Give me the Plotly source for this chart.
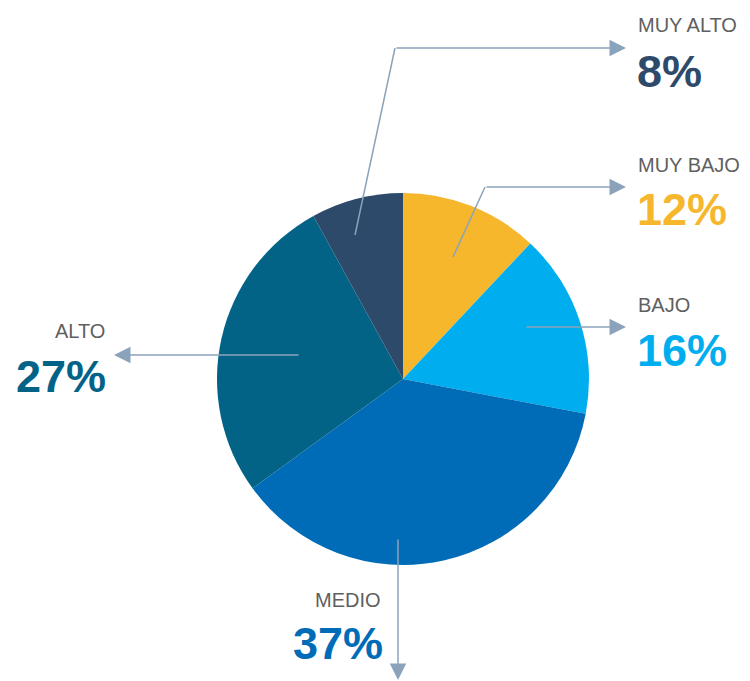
import plotly.graph_objects as go

# ---- data ----
categories = ["MUY BAJO", "BAJO", "MEDIO", "ALTO", "MUY ALTO"]
values = [12, 16, 37, 27, 8]

# ---- style ----
colors = ["#F6B72D", "#00AEEF", "#006CB7", "#036387", "#2D4A6B"]
W, H = 750, 681
LINE = "#8BA3BA"
PCT_FONT = "Liberation Sans, Arial, sans-serif"
LBL_FONT = "Liberation Sans, Arial, sans-serif"


def X(px):
    return px / W


def Y(py):
    return 1 - py / H


# pie geometry (pixels)
cx, cy, r = 403, 379, 186

fig = go.Figure(go.Pie(
    labels=categories,
    values=values,
    sort=False,
    direction="clockwise",
    rotation=0,
    marker=dict(colors=colors, line=dict(width=0)),
    textinfo="none",
    hoverinfo="label+percent",
    domain=dict(x=[X(cx - r), X(cx + r)], y=[Y(cy + r), Y(cy - r)]),
))

# connector layout per category: (inner point, elbow or None, arrow tip, text side)
connectors = {
    "MUY ALTO": dict(inner=(355, 235), elbow=(395, 48), tip=(626, 48), side="right"),
    "MUY BAJO": dict(inner=(453, 257), elbow=(485, 187), tip=(626, 187), side="right"),
    "BAJO": dict(inner=(525, 327), elbow=None, tip=(626, 327), side="right"),
    "ALTO": dict(inner=(300, 355), elbow=None, tip=(114, 355), side="left"),
    "MEDIO": dict(inner=(398, 538), elbow=None, tip=(398, 680), side="below"),
}

shapes = []
annotations = []
for cat, val, col in zip(categories, values, colors):
    c = connectors[cat]
    start = c["inner"]
    if c["elbow"] is not None:
        shapes.append(dict(type="line", xref="paper", yref="paper",
                           x0=X(start[0]), y0=Y(start[1]),
                           x1=X(c["elbow"][0]), y1=Y(c["elbow"][1]),
                           line=dict(color=LINE, width=1.5)))
        start = c["elbow"]
    tx, ty = c["tip"]
    annotations.append(dict(xref="paper", yref="paper", x=X(tx), y=Y(ty),
                            ax=start[0] - tx, ay=start[1] - ty, axref="pixel", ayref="pixel",
                            text="", showarrow=True, arrowhead=2, arrowsize=2.2,
                            arrowwidth=1.5, arrowcolor=LINE, standoff=0, startstandoff=0))
    pct = f"{val}%"
    if c["side"] == "right":
        lx, ly, px_, py_, anchor = tx + 10, ty - 22.5, tx + 9, ty + 23, "left"
    elif c["side"] == "left":
        lx, ly, px_, py_, anchor = 107, 330.5, 108, 376.5, "right"
    else:
        lx, ly, px_, py_, anchor = 383, 600, 385, 643.5, "right"
    annotations.append(dict(xref="paper", yref="paper", x=X(lx), y=Y(ly),
                            xanchor=anchor, yanchor="middle", showarrow=False,
                            text=cat, font=dict(family=LBL_FONT, size=20, color="#606060")))
    annotations.append(dict(xref="paper", yref="paper", x=X(px_), y=Y(py_),
                            xanchor=anchor, yanchor="middle", showarrow=False,
                            text=f"<b>{pct}</b>", font=dict(family=PCT_FONT, size=45, color=col)))

fig.update_layout(
    width=W, height=H,
    margin=dict(l=0, r=0, t=0, b=0),
    paper_bgcolor="white", plot_bgcolor="white",
    showlegend=False,
    shapes=shapes,
    annotations=annotations,
)

fig.write_html("out.html", config=dict(displayModeBar=False),
               post_script="document.body.style.margin='0';document.body.style.overflow='hidden';")
